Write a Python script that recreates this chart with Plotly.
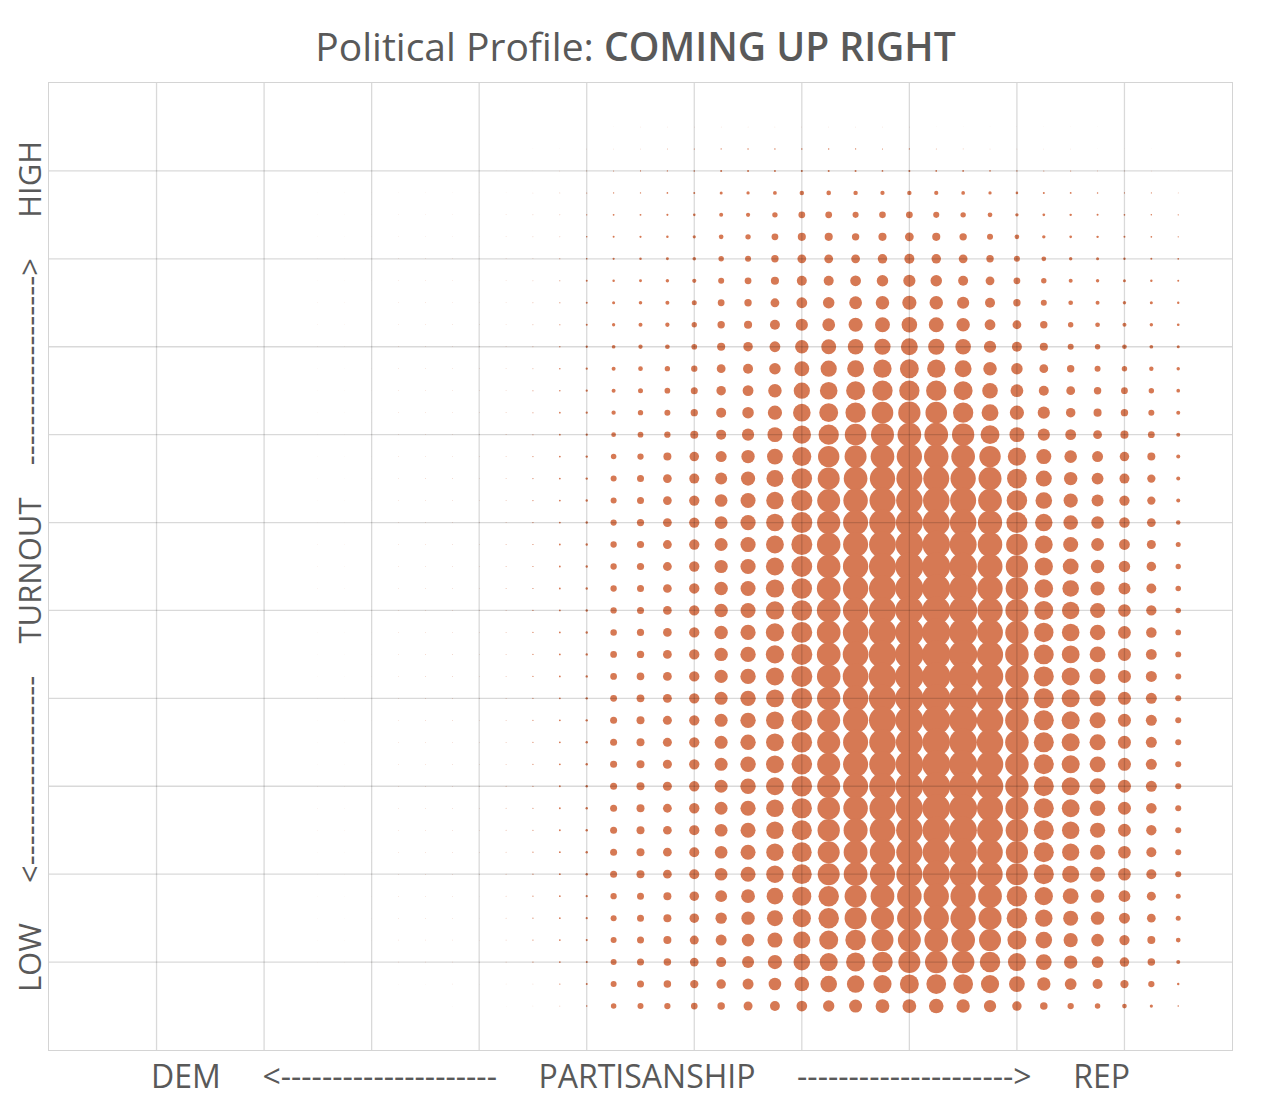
import plotly.graph_objects as go

# ---------------- data ----------------
PARTISANSHIP = [2.5, 2.75, 3.0, 3.25, 3.5, 3.75, 4.0, 4.25, 4.5, 4.75,
                5.0, 5.25, 5.5, 5.75, 6.0, 6.25, 6.5, 6.75, 7.0, 7.25,
                7.5, 7.75, 8.0, 8.25, 8.5, 8.75, 9.0, 9.25, 9.5, 9.75,
                10.0, 10.25, 10.5]

TURNOUT = [10.5, 10.25, 10.0, 9.75, 9.5, 9.25, 9.0, 8.75, 8.5, 8.25,
           8.0, 7.75, 7.5, 7.25, 7.0, 6.75, 6.5, 6.25, 6.0, 5.75,
           5.5, 5.25, 5.0, 4.75, 4.5, 4.25, 4.0, 3.75, 3.5, 3.25,
           3.0, 2.75, 2.5, 2.25, 2.0, 1.75, 1.5, 1.25, 1.0, 0.75, 0.5]

GRID_TICKS = [1, 2, 3, 4, 5, 6, 7, 8, 9, 10]

# dot diameter (px) per turnout row (top -> bottom), per partisanship column (left -> right)
DOT_SIZE = [
    [0, 0, 0, 0, 0, 0, 0, 0, 0, 0, 0, 0.3, 0.4, 0.4, 0.4, 0.4, 0.4, 0.4, 0.4, 0.4, 0.4, 0.4, 0.4, 0.3, 0.3, 0.3, 0.3, 0.3, 0.3, 0.3, 0, 0, 0],
    [0, 0, 0, 0, 0, 0, 0, 0, 0.2, 0.3, 0.4, 0.5, 0.6, 0.9, 1.1, 1.3, 1.4, 1.4, 1.5, 1.4, 1.3, 1.1, 1.2, 0.9, 0.7, 0.6, 0.5, 0.4, 0.4, 0.3, 0.3, 0.3, 0],
    [0, 0, 0, 0, 0, 0, 0, 0.2, 0.3, 0.5, 0.8, 1.0, 1.1, 1.3, 1.5, 2.0, 2.0, 2.0, 2.0, 2.0, 2.0, 1.7, 2.0, 1.8, 1.8, 1.6, 1.3, 1.0, 1.0, 0.8, 0.6, 0.5, 0.3],
    [0.2, 0.3, 0.2, 0.4, 0.4, 0.4, 0.3, 0.4, 0.5, 0.7, 1.0, 1.3, 1.4, 1.7, 2.0, 3.0, 3.3, 3.8, 4.5, 4.6, 4.4, 4.3, 4.4, 4.2, 3.7, 3.3, 2.6, 2.0, 1.8, 1.5, 1.2, 1.1, 0.8],
    [0.3, 0.3, 0.2, 0.4, 0.4, 0.4, 0.3, 0.5, 0.6, 0.8, 1.3, 1.8, 1.9, 2.1, 2.6, 4.0, 4.2, 5.4, 6.8, 6.8, 6.1, 6.6, 6.8, 6.1, 5.4, 4.7, 3.4, 2.7, 2.4, 2.0, 1.7, 1.5, 1.2],
    [0.3, 0.3, 0.2, 0.4, 0.4, 0.4, 0.3, 0.5, 0.6, 0.8, 1.5, 2.0, 2.2, 2.5, 3.2, 4.7, 5.4, 6.8, 8.1, 8.1, 7.4, 8.1, 8.8, 8.1, 7.4, 6.0, 4.7, 3.4, 2.7, 2.4, 2.0, 1.7, 1.3],
    [0.3, 0.3, 0.2, 0.4, 0.4, 0.4, 0.3, 0.5, 0.6, 1.0, 1.6, 2.2, 2.5, 2.9, 3.6, 5.4, 6.0, 7.4, 8.8, 8.8, 8.8, 9.5, 10.0, 9.5, 8.8, 7.4, 6.0, 4.7, 3.4, 3.0, 2.4, 2.0, 1.7],
    [0.3, 0.3, 0.2, 0.4, 0.4, 0.4, 0.3, 0.5, 0.7, 1.0, 2.0, 2.5, 2.9, 3.4, 4.2, 6.0, 6.8, 8.1, 10.0, 10.0, 10.8, 11.5, 12.2, 11.5, 10.0, 8.8, 6.8, 5.4, 4.0, 3.4, 3.0, 2.4, 2.0],
    [0.3, 0.3, 0.2, 0.4, 0.5, 0.4, 0.3, 0.5, 0.8, 1.2, 2.0, 3.0, 3.5, 4.0, 5.0, 6.8, 7.4, 8.8, 10.8, 11.5, 12.8, 13.5, 14.2, 13.5, 12.2, 10.0, 7.4, 6.0, 4.7, 4.0, 3.4, 3.0, 2.4],
    [0.3, 0.3, 0.2, 0.4, 0.5, 0.5, 0.4, 0.5, 0.8, 1.2, 2.0, 3.3, 4.0, 4.3, 5.3, 7.4, 8.1, 10.0, 12.2, 12.8, 14.2, 14.9, 15.6, 14.9, 13.5, 10.8, 8.8, 7.4, 5.4, 4.7, 4.0, 3.4, 2.7],
    [0.3, 0.3, 0.2, 0.5, 0.5, 0.5, 0.4, 0.6, 0.8, 1.3, 2.3, 3.7, 4.3, 4.7, 5.7, 8.1, 9.5, 10.8, 13.5, 14.9, 15.6, 16.2, 16.9, 16.2, 15.6, 12.2, 10.0, 8.1, 6.0, 5.4, 4.7, 3.7, 3.0],
    [0.3, 0.3, 0.2, 0.5, 0.5, 0.5, 0.5, 0.6, 0.9, 1.5, 2.3, 4.0, 4.7, 5.3, 6.3, 8.8, 10.0, 11.5, 14.9, 16.2, 16.9, 18.3, 18.9, 18.3, 16.9, 13.5, 11.5, 8.8, 7.4, 6.0, 5.4, 4.4, 3.4],
    [0.3, 0.3, 0.2, 0.5, 0.5, 0.5, 0.5, 0.6, 1.0, 1.5, 2.3, 4.0, 5.0, 5.7, 7.0, 9.5, 10.8, 13.5, 16.2, 17.6, 18.9, 20.3, 20.3, 20.3, 18.9, 15.6, 12.8, 10.0, 8.8, 7.4, 6.8, 5.4, 3.7],
    [0.3, 0.3, 0.2, 0.5, 0.5, 0.5, 0.5, 0.6, 1.0, 1.7, 2.3, 4.3, 5.3, 6.0, 7.3, 10.0, 11.5, 14.2, 17.6, 18.9, 20.3, 21.6, 22.3, 21.6, 20.3, 16.9, 14.2, 12.2, 9.5, 8.1, 7.4, 6.0, 4.0],
    [0.3, 0.3, 0.2, 0.5, 0.5, 0.5, 0.5, 0.7, 1.0, 1.7, 2.3, 4.7, 5.7, 6.3, 8.0, 10.0, 12.2, 14.9, 18.3, 20.3, 21.6, 23.0, 23.7, 23.7, 22.3, 18.9, 14.9, 12.2, 10.8, 8.8, 8.1, 6.8, 4.0],
    [0.3, 0.3, 0.2, 0.5, 0.5, 0.5, 0.5, 0.7, 1.1, 1.8, 2.4, 5.5, 6.3, 8.0, 9.5, 11.0, 13.4, 15.8, 19.0, 21.4, 22.0, 23.7, 25.3, 24.5, 23.7, 21.4, 18.2, 15.0, 12.6, 11.0, 9.5, 8.0, 4.0],
    [0.3, 0.3, 0.2, 0.5, 0.6, 0.6, 0.5, 0.8, 1.2, 1.8, 2.4, 6.0, 7.0, 8.7, 10.0, 12.0, 14.2, 17.0, 20.5, 22.0, 23.7, 25.3, 26.0, 26.0, 25.3, 23.0, 19.8, 16.0, 13.4, 11.8, 10.0, 8.3, 4.0],
    [0.3, 0.3, 0.2, 0.5, 0.6, 0.6, 0.5, 0.8, 1.2, 1.8, 2.4, 6.0, 7.0, 8.7, 10.3, 12.6, 15.0, 17.4, 21.0, 23.0, 24.5, 26.0, 26.5, 26.5, 26.0, 23.7, 20.5, 16.6, 14.2, 12.0, 10.3, 8.3, 4.0],
    [0.3, 0.3, 0.2, 0.5, 0.6, 0.6, 0.5, 0.8, 1.2, 1.8, 2.4, 6.2, 7.2, 8.8, 10.3, 12.8, 15.2, 17.6, 21.0, 23.2, 25.0, 26.5, 27.0, 27.0, 26.5, 24.3, 21.0, 17.4, 14.6, 12.6, 10.5, 8.7, 4.5],
    [0.3, 0.3, 0.2, 0.5, 0.6, 0.6, 0.5, 0.8, 1.2, 1.8, 2.4, 6.3, 7.2, 8.8, 10.3, 13.0, 15.2, 17.8, 21.0, 23.5, 25.0, 26.8, 27.5, 27.5, 27.0, 24.5, 21.5, 17.8, 15.0, 12.8, 10.8, 9.0, 5.0],
    [0.3, 0.3, 0.2, 0.5, 0.6, 0.6, 0.5, 0.8, 1.2, 1.8, 2.4, 6.3, 7.2, 8.8, 10.3, 13.2, 15.2, 18.0, 20.8, 23.5, 25.3, 27.0, 28.0, 28.0, 27.5, 25.0, 22.3, 18.2, 15.8, 13.4, 11.4, 9.5, 5.3],
    [0.3, 0.3, 0.2, 0.5, 0.6, 0.6, 0.5, 0.8, 1.2, 1.8, 2.4, 6.3, 7.0, 8.7, 10.3, 13.4, 15.0, 18.2, 20.5, 23.7, 25.3, 27.0, 28.0, 28.0, 27.5, 25.3, 22.5, 18.6, 16.6, 14.2, 12.0, 9.9, 5.5],
    [0.3, 0.3, 0.2, 0.5, 0.6, 0.6, 0.5, 0.8, 1.2, 1.8, 2.4, 6.3, 7.0, 8.7, 10.3, 13.4, 15.0, 18.2, 20.5, 23.7, 25.3, 27.0, 28.0, 28.0, 28.0, 25.3, 23.0, 19.0, 17.4, 15.0, 12.6, 10.3, 5.5],
    [0.3, 0.3, 0.2, 0.5, 0.6, 0.6, 0.5, 0.8, 1.2, 1.8, 2.4, 6.5, 7.2, 8.7, 10.3, 13.4, 15.2, 18.2, 20.8, 23.7, 25.5, 27.2, 28.2, 28.2, 28.0, 25.8, 23.3, 19.4, 17.6, 15.4, 12.8, 10.5, 5.7],
    [0.3, 0.3, 0.2, 0.5, 0.6, 0.6, 0.5, 0.8, 1.2, 1.8, 2.4, 6.7, 7.4, 8.8, 10.3, 13.4, 15.4, 18.2, 21.0, 23.7, 25.7, 27.4, 28.4, 28.4, 28.2, 26.2, 23.5, 19.8, 17.8, 15.8, 13.0, 10.8, 5.9],
    [0.3, 0.3, 0.2, 0.5, 0.6, 0.6, 0.5, 0.8, 1.2, 1.8, 2.4, 6.7, 7.6, 8.8, 10.3, 13.2, 15.4, 18.0, 21.0, 23.5, 25.7, 27.4, 28.4, 28.4, 28.2, 26.4, 23.5, 20.0, 18.0, 15.8, 13.0, 11.0, 6.0],
    [0.3, 0.3, 0.2, 0.5, 0.6, 0.6, 0.5, 0.8, 1.2, 1.8, 2.4, 6.8, 7.8, 8.9, 10.3, 13.0, 15.4, 17.8, 20.8, 23.3, 25.5, 27.2, 28.2, 28.4, 28.2, 26.5, 23.5, 20.0, 18.0, 16.0, 13.0, 11.0, 6.0],
    [0.3, 0.3, 0.2, 0.5, 0.6, 0.6, 0.5, 0.8, 1.2, 1.8, 2.4, 7.0, 8.0, 9.0, 10.3, 13.0, 15.4, 17.8, 20.6, 23.0, 25.2, 27.0, 28.0, 28.2, 28.0, 26.5, 23.5, 20.0, 18.0, 16.0, 13.0, 11.0, 6.0],
    [0.3, 0.3, 0.2, 0.5, 0.6, 0.6, 0.5, 0.8, 1.2, 1.8, 2.4, 7.0, 8.0, 9.0, 10.3, 13.0, 15.4, 17.8, 20.5, 23.0, 25.0, 26.5, 27.0, 27.5, 27.5, 26.5, 23.5, 20.0, 18.0, 16.0, 13.0, 11.0, 6.0],
    [0.3, 0.3, 0.2, 0.5, 0.6, 0.6, 0.5, 0.8, 1.2, 1.8, 2.4, 7.0, 8.0, 9.0, 10.3, 13.0, 15.4, 17.8, 20.5, 23.0, 25.0, 26.5, 27.5, 28.0, 28.0, 26.5, 23.5, 20.0, 18.0, 15.8, 13.0, 11.0, 6.0],
    [0.3, 0.3, 0.2, 0.5, 0.6, 0.6, 0.5, 0.8, 1.2, 1.8, 2.4, 7.0, 8.0, 9.0, 10.3, 13.0, 15.4, 17.8, 20.5, 23.0, 25.0, 26.5, 27.5, 28.0, 28.0, 26.5, 23.3, 20.0, 18.0, 15.8, 13.0, 11.0, 6.0],
    [0.3, 0.3, 0.2, 0.5, 0.6, 0.6, 0.5, 0.8, 1.2, 1.8, 2.4, 7.0, 8.0, 8.8, 10.3, 12.8, 15.2, 17.6, 20.2, 22.6, 24.5, 26.0, 27.0, 27.8, 27.8, 26.0, 23.0, 20.0, 17.8, 15.4, 13.0, 10.5, 6.0],
    [0.3, 0.3, 0.2, 0.5, 0.6, 0.6, 0.5, 0.8, 1.2, 1.8, 2.4, 7.0, 8.0, 8.7, 10.2, 12.7, 15.0, 17.4, 20.0, 22.3, 24.0, 25.6, 26.5, 27.5, 27.5, 25.7, 22.5, 20.0, 17.4, 15.2, 12.8, 10.3, 6.0],
    [0.3, 0.3, 0.2, 0.5, 0.6, 0.6, 0.5, 0.8, 1.2, 1.8, 2.4, 7.0, 8.0, 8.7, 10.0, 12.6, 15.0, 17.4, 19.8, 22.0, 23.8, 25.3, 26.2, 27.2, 27.2, 25.5, 22.2, 20.0, 17.2, 15.0, 12.6, 10.0, 6.0],
    [0.3, 0.3, 0.2, 0.5, 0.6, 0.6, 0.5, 0.8, 1.2, 1.8, 2.4, 7.0, 8.0, 8.7, 10.0, 12.6, 15.0, 17.4, 19.8, 22.0, 23.7, 25.0, 26.0, 27.0, 27.0, 25.3, 22.0, 20.0, 17.0, 15.0, 12.6, 10.0, 6.0],
    [0.3, 0.3, 0.2, 0.5, 0.5, 0.5, 0.4, 0.7, 1.1, 1.7, 2.3, 6.3, 7.0, 8.0, 9.5, 11.8, 13.8, 16.6, 19.0, 20.5, 22.0, 23.7, 24.5, 25.3, 25.3, 23.7, 20.5, 18.2, 15.8, 13.4, 11.8, 9.0, 5.0],
    [0.3, 0.3, 0.2, 0.5, 0.5, 0.5, 0.4, 0.7, 1.1, 1.7, 2.2, 6.0, 7.0, 8.0, 9.5, 11.4, 13.4, 16.0, 18.2, 20.5, 22.0, 23.0, 24.5, 25.3, 25.3, 23.0, 20.5, 17.4, 15.0, 13.4, 11.0, 8.7, 5.0],
    [0.3, 0.3, 0.2, 0.5, 0.5, 0.5, 0.4, 0.7, 1.1, 1.7, 2.1, 6.0, 7.0, 8.0, 9.0, 11.0, 12.6, 15.0, 17.0, 19.0, 20.5, 22.0, 23.0, 23.7, 23.7, 22.0, 19.0, 16.6, 14.2, 12.6, 10.3, 8.0, 4.7],
    [0.3, 0.3, 0.2, 0.5, 0.5, 0.5, 0.4, 0.7, 1.1, 1.7, 2.0, 6.0, 7.0, 7.5, 8.7, 10.0, 12.0, 14.2, 16.6, 18.0, 19.0, 20.5, 22.0, 22.5, 22.5, 20.5, 18.0, 15.8, 13.4, 11.8, 9.5, 7.5, 4.0],
    [0, 0, 0, 0.3, 0.3, 0.4, 0.3, 0.4, 0.6, 1.2, 2.0, 6.0, 7.0, 7.5, 8.3, 9.5, 11.0, 12.6, 14.6, 16.6, 17.4, 18.2, 19.0, 19.8, 19.8, 18.2, 15.8, 13.4, 11.8, 10.0, 8.3, 6.3, 2.4],
    [0, 0, 0, 0, 0, 0.3, 0, 0.3, 0.4, 0.8, 1.6, 5.5, 6.0, 6.3, 6.7, 7.5, 9.0, 9.9, 10.7, 11.4, 13.0, 13.8, 13.8, 14.6, 13.4, 12.3, 9.5, 7.5, 6.3, 5.5, 4.7, 3.2, 1.6],
]

TITLE_PLAIN = "Political Profile: "
TITLE_BOLD = "COMING UP RIGHT"
X_TITLE = ("DEM" + "&nbsp;" * 5 + "&lt;" + "-" * 21 + "&nbsp;" * 5 + "PARTISANSHIP"
           + "&nbsp;" * 5 + "-" * 21 + "&gt;" + "&nbsp;" * 5 + "REP")
Y_TITLE = ("LOW" + "&nbsp;" * 5 + "&lt;" + "-" * 19 + "&nbsp;" * 4 + "TURNOUT"
           + "&nbsp;" * 4 + "-" * 19 + "&gt;" + "&nbsp;" * 5 + "HIGH")

# ---------------- styles ----------------
DOT_COLOR = "rgb(214,121,84)"
TEXT_COLOR = "#595959"
GRID_COLOR = "rgba(0,0,0,0.15)"
FONT = "Segoe UI, Open Sans, Noto Sans, sans-serif"
FIG_W, FIG_H = 1255, 1090   # page body adds an 8px margin around the figure

xs, ys, ss = [], [], []
for yv, row in zip(TURNOUT, DOT_SIZE):
    for xv, s in zip(PARTISANSHIP, row):
        if s > 0:
            xs.append(xv)
            ys.append(yv)
            ss.append(s)

fig = go.Figure(
    go.Scatter(
        x=xs, y=ys, mode="markers",
        marker=dict(size=ss, sizemode="diameter", sizeref=1, color=DOT_COLOR,
                    line=dict(width=0), opacity=1),
        hoverinfo="skip", showlegend=False,
    )
)

for t in GRID_TICKS:
    fig.add_vline(x=t, layer="above", line=dict(color=GRID_COLOR, width=1.3))
    fig.add_hline(y=t, layer="above", line=dict(color=GRID_COLOR, width=1.3))

axis_common = dict(
    range=[0, 11], showgrid=False, zeroline=False, showticklabels=False,
    ticks="", showline=True, mirror=True, linecolor="#d4d4d4", linewidth=1.3,
    automargin=False, fixedrange=True,
)

fig.update_layout(
    width=FIG_W, height=FIG_H,
    margin=dict(l=41, r=31, t=75, b=48),
    paper_bgcolor="white", plot_bgcolor="white",
    font=dict(family=FONT, color=TEXT_COLOR),
    title=dict(
        text=TITLE_PLAIN + "<span style='font-weight:600'>" + TITLE_BOLD + "</span>",
        x=0.5, xanchor="center", y=1 - 39 / FIG_H, yanchor="middle", yref="container",
        font=dict(size=39, color=TEXT_COLOR, family=FONT),
    ),
    xaxis=dict(axis_common, title=dict(text=X_TITLE, standoff=15,
                                       font=dict(size=32, color=TEXT_COLOR, family=FONT))),
    yaxis=dict(axis_common, title=dict(text=Y_TITLE, standoff=0,
                                       font=dict(size=31, color=TEXT_COLOR, family=FONT))),
)

fig.write_html("out.html")
